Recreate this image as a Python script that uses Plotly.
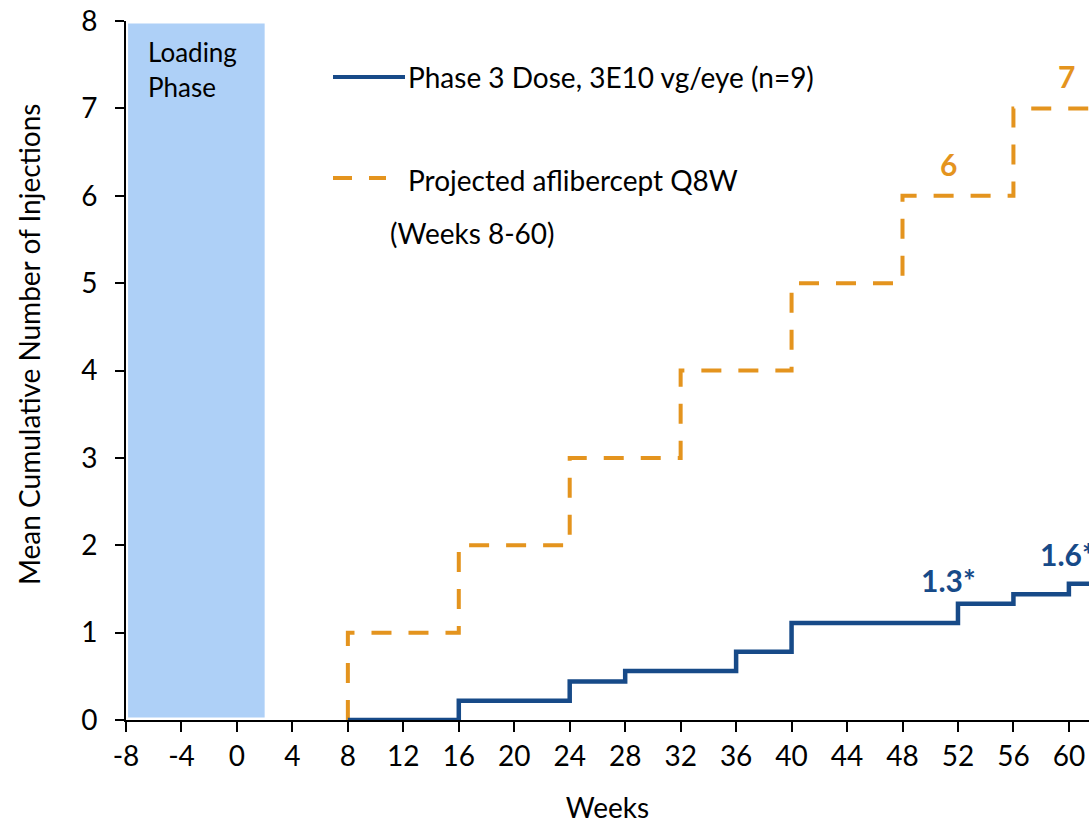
import plotly.graph_objects as go

# Data
weeks_gene = [8, 16, 24, 28, 36, 40, 52, 56, 60, 62]
inj_gene = [0, 0.22, 0.44, 0.56, 0.78, 1.11, 1.33, 1.44, 1.56, 1.56]

weeks_afl = [8, 8, 16, 24, 32, 40, 48, 56, 62]
inj_afl = [0, 1, 2, 3, 4, 5, 6, 7, 7]

x_ticks = list(range(-8, 61, 4))
y_ticks = list(range(0, 9))

loading_start, loading_end, loading_top = -8, 2, 7.97

BLUE = "#174a88"
ORANGE = "#e4941e"
FONT = "Lato"
FS = 28

fig = go.Figure()

fig.add_shape(type="rect", xref="x", yref="y", x0=loading_start + 0.15, x1=loading_end,
              y0=0.03, y1=loading_top, fillcolor="#aed0f7", line_width=0, layer="below")

fig.add_trace(go.Scatter(x=weeks_afl, y=inj_afl, mode="lines", line_shape="hv",
                         line=dict(color=ORANGE, width=4, dash="20px,17px"),
                         showlegend=False, cliponaxis=True))
fig.add_trace(go.Scatter(x=weeks_gene, y=inj_gene, mode="lines", line_shape="hv",
                         line=dict(color=BLUE, width=4.5),
                         showlegend=False, cliponaxis=True))

# Legend (custom)
fig.add_shape(type="line", xref="paper", yref="paper", x0=(333-126)/963, x1=(405-126)/963,
              y0=(825-105-77)/699, y1=(825-105-77)/699, line=dict(color=BLUE, width=4))
fig.add_shape(type="line", xref="paper", yref="paper", x0=(333-126)/963, x1=(386-126)/963,
              y0=(720-178)/699, y1=(720-178)/699, line=dict(color=ORANGE, width=4, dash="19px,17px"))

def pann(text, px, py, size=FS, color="black", bold=False, xanchor="left"):
    fig.add_annotation(xref="paper", yref="paper", x=(px-126)/963, y=(720-py)/699,
                       text=f"<b>{text}</b>" if bold else text, showarrow=False,
                       xanchor=xanchor, yanchor="middle",
                       font=dict(family=FONT, size=size, color=color))

pann("Phase 3 Dose, 3E10 vg/eye (n=9)", 406, 77)
pann("Projected aflibercept Q8W", 406, 180)
pann("(Weeks 8-60)", 388, 233)
pann("Loading", 146, 52, size=26)
pann("Phase", 146, 87, size=26)

# Value labels
def dann(text, x, y, color):
    fig.add_annotation(x=x, y=y, xref="x", yref="y", text=f"<b>{text}</b>", showarrow=False,
                       font=dict(family=FONT, size=30, color=color))

dann("1.3*", 51.3, 1.6, BLUE)
dann("1.6*", 59.9, 1.9, BLUE)
dann("6", 51.3, 6.36, ORANGE)
dann("7", 59.8, 7.37, ORANGE)

# Y title
fig.add_annotation(xref="paper", yref="paper", x=(29-126)/963, y=(720-345)/699,
                   text="Mean Cumulative Number of Injections", showarrow=False, textangle=-90,
                   xanchor="center", yanchor="middle", font=dict(family=FONT, size=FS, color="black"))

fig.update_layout(
    width=1089, height=825,
    margin=dict(l=126, r=0, t=21, b=105),
    paper_bgcolor="white", plot_bgcolor="white",
    font=dict(family=FONT, size=FS, color="black"),
    xaxis=dict(range=[-8, 61.45], tickmode="array", tickvals=x_ticks,
               ticktext=[str(v) for v in x_ticks],
               showgrid=False, zeroline=False, showline=True, linecolor="black", linewidth=2,
               ticks="outside", ticklen=10, tickwidth=2, tickcolor="black",
               tickfont=dict(family=FONT, size=FS),
               title=dict(text="Weeks", standoff=28, font=dict(family=FONT, size=FS))),
    yaxis=dict(range=[0, 8], tickmode="array", tickvals=y_ticks,
               showgrid=False, zeroline=False, showline=True, linecolor="black", linewidth=2,
               ticks="outside", ticklen=9, tickwidth=2, tickcolor="black",
               tickfont=dict(family=FONT, size=FS), ticklabelstandoff=12),
)

fig.write_html("out.html")
